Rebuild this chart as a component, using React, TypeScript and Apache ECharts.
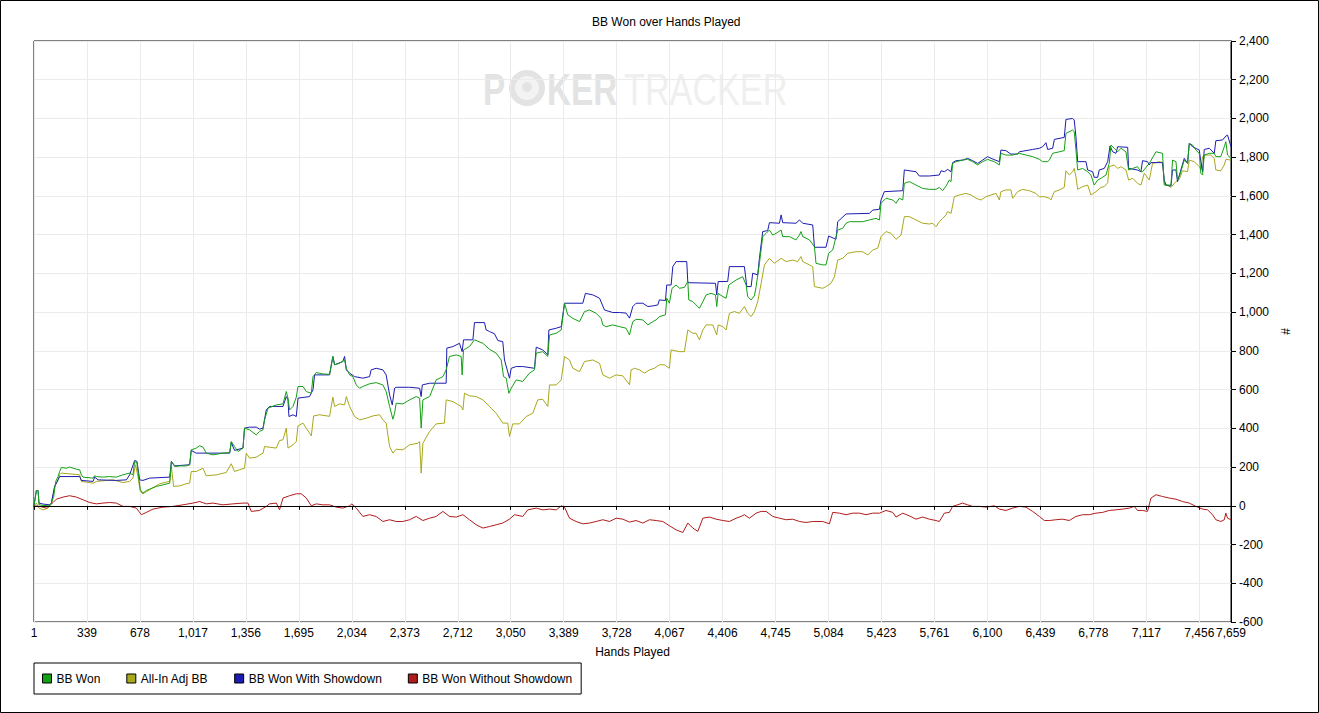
import React, { useEffect, useRef } from "react";
import * as echarts from "echarts";

const FONT = '"Liberation Sans", Arial, sans-serif';
const chartTitle = "BB Won over Hands Played";
const seriesNames = ["BB Won", "All-In Adj BB", "BB Won With Showdown", "BB Won Without Showdown"];
const seriesColors = ["#14a014", "#a8a81c", "#1c1cb0", "#b01c1c"];
const xAxisName = "Hands Played";
const yAxisName = "#";
const totalHands = 7659;
const xTickStep = 338.88;
const yMin = -600;
const yMax = 2400;
const yStep = 200;

// [hand, BB]
const bbWon = [
  [1,0],[16,79],[27,79],[33,5],[59,2],[101,0],[112,14],[127,48],[140,126],[155,151],[165,177],[176,198],[208,194],[229,200],[272,189],[293,186],[304,160],[315,148],[379,143],[389,155],[400,151],[442,148],[485,151],[528,148],[570,160],[613,169],[634,160],[645,229],[660,220],[673,134],[681,83],[698,65],[720,79],[741,86],[784,100],[826,108],[869,117],[880,229],[901,203],[933,206],[975,206],[997,212],[1007,289],[1039,298],[1061,310],[1082,303],[1103,272],[1146,263],[1210,272],[1253,275],[1263,332],[1284,306],[1306,280],[1338,298],[1348,401],[1380,392],[1423,366],[1444,384],[1466,392],[1476,444],[1498,504],[1551,521],[1594,526],[1615,590],[1626,556],[1636,495],[1658,513],[1679,561],[1690,616],[1722,616],[1743,590],[1775,581],[1786,667],[1807,688],[1849,681],[1892,679],
  [1913,771],[1924,728],[1956,736],[1988,753],[1999,710],[2020,676],[2041,667],[2063,624],[2084,607],[2105,616],[2148,630],[2190,636],[2233,624],[2254,590],[2276,513],[2297,447],[2308,478],[2318,530],[2361,526],[2404,547],[2446,564],[2468,556],[2478,401],[2489,547],[2532,564],[2574,650],[2617,667],[2638,702],[2659,771],[2702,779],[2734,771],[2740,676],[2749,805],[2787,822],[2819,857],[2873,839],[2915,808],[2958,788],[2990,753],[3005,667],[3022,659],[3039,581],[3054,607],[3086,650],[3128,642],[3171,685],[3203,702],[3214,788],[3256,796],[3288,771],[3299,882],[3342,891],[3374,908],[3395,1046],[3416,986],[3448,968],[3491,951],[3523,1003],[3555,1011],[3597,994],[3629,968],[3640,934],[3661,925],[3704,934],[3747,925],[3789,917],[3811,882],
  [3821,917],[3832,951],[3853,963],[3896,960],[3928,934],[3960,951],[3981,960],[4002,977],[4041,986],[4049,1072],[4066,1046],[4083,1123],[4109,1140],[4130,1123],[4162,1128],[4184,1158],[4190,1063],[4216,1054],[4237,1037],[4258,1020],[4280,1054],[4301,1089],[4333,1097],[4361,1089],[4369,1029],[4378,1097],[4408,1080],[4429,1072],[4446,1140],[4493,1166],[4535,1183],[4557,1140],[4567,1080],[4589,1063],[4610,1084],[4621,1132],[4642,1252],[4663,1390],[4685,1407],[4706,1424],[4727,1398],[4749,1407],[4781,1424],[4791,1390],[4834,1390],[4876,1373],[4898,1398],[4908,1416],[4919,1390],[4962,1373],[4994,1338],[5004,1252],[5047,1244],[5068,1244],[5085,1304],[5111,1321],[5143,1424],[5175,1433],[5196,1459],[5218,1467],[5303,1467],[5346,1476],[5388,1484],[5410,1476],[5420,1562],[5452,1588],[5495,1579],[5516,1562],[5537,1588],[5559,1579],[5569,1665],[5601,1674],[5644,1656],[5686,1639],[5729,1634],
  [5772,1634],[5793,1644],[5814,1627],[5836,1651],[5857,1682],[5868,1674],[5878,1768],[5900,1777],[5942,1785],[5974,1789],[6006,1777],[6038,1760],[6070,1777],[6102,1789],[6124,1782],[6145,1777],[6177,1760],[6187,1820],[6219,1811],[6262,1811],[6305,1820],[6347,1811],[6390,1803],[6433,1789],[6454,1777],[6486,1777],[6497,1785],[6518,1820],[6561,1828],[6592,1834],[6603,1923],[6646,1940],[6656,1932],[6667,1837],[6678,1734],[6710,1742],[6742,1725],[6763,1708],[6784,1656],[6806,1682],[6827,1691],[6859,1708],[6880,1768],[6891,1863],[6912,1846],[6934,1828],[6955,1846],[6987,1828],[7004,1734],[7030,1742],[7061,1751],[7083,1725],[7093,1725],[7136,1768],[7179,1828],[7221,1820],[7232,1656],[7275,1656],[7285,1785],[7307,1777],[7317,1682],[7332,1708],[7360,1785],[7381,1768],[7392,1871],[7413,1863],[7434,1837],[7456,1820],[7466,1717],[7477,1708],[7488,1811],[7520,1820],[7552,1820],[7562,1803],[7594,1803],[7616,1854],[7626,1880],[7637,1811],[7659,1794],
];

const allInAdjBB = [
  [1,0],[16,14],[33,-12],[59,-21],[91,-12],[112,14],[133,100],[155,134],[165,160],[176,169],[293,160],[304,126],[379,117],[400,126],[506,134],[570,120],[613,126],[634,143],[651,212],[666,151],[681,74],[698,62],[741,83],[805,114],[869,126],[880,203],[894,100],[933,103],[975,114],[997,117],[1007,177],[1039,177],[1082,194],[1103,155],[1167,160],[1231,172],[1263,217],[1284,177],[1316,186],[1348,194],[1359,272],[1380,246],[1423,251],[1466,272],[1476,306],[1551,298],[1572,337],[1594,341],[1615,401],[1626,298],[1658,315],[1679,332],[1690,413],[1722,427],[1743,401],[1775,361],[1790,464],[1828,470],[1892,462],
  [1913,561],[1924,513],[1956,526],[1988,521],[1999,564],[2020,513],[2052,461],[2084,444],[2126,452],[2169,464],[2212,470],[2233,444],[2254,427],[2276,306],[2297,272],[2318,292],[2361,289],[2404,315],[2457,323],[2468,332],[2478,169],[2489,323],[2532,384],[2574,423],[2627,427],[2638,547],[2681,538],[2734,513],[2745,495],[2755,581],[2787,568],[2830,564],[2873,547],[2915,513],[2958,478],[3000,427],[3032,427],[3043,358],[3064,423],[3107,423],[3150,461],[3192,478],[3224,547],[3256,550],[3288,513],[3299,624],[3342,624],[3374,650],[3395,771],[3427,753],[3448,710],[3491,693],[3523,745],[3576,753],[3619,736],[3640,676],[3683,659],[3725,676],[3768,671],[3811,625],
  [3821,702],[3843,710],[3875,702],[3907,685],[3939,702],[3970,710],[4002,728],[4034,728],[4066,710],[4077,805],[4130,796],[4162,796],[4184,908],[4216,891],[4237,891],[4258,857],[4280,908],[4301,934],[4344,934],[4369,882],[4378,934],[4408,925],[4429,908],[4450,994],[4482,1003],[4514,994],[4546,1029],[4567,994],[4589,977],[4610,1003],[4631,1054],[4653,1149],[4674,1244],[4706,1278],[4738,1252],[4781,1278],[4813,1261],[4855,1269],[4887,1261],[4908,1287],[4919,1261],[4962,1244],[4983,1235],[4994,1132],[5047,1123],[5068,1132],[5100,1149],[5122,1183],[5143,1269],[5175,1278],[5207,1304],[5260,1312],[5303,1312],[5335,1295],[5367,1321],[5399,1330],[5420,1390],[5452,1416],[5484,1407],[5516,1376],[5548,1398],[5569,1493],[5601,1493],[5644,1476],[5686,1459],[5729,1455],
  [5750,1459],[5772,1441],[5793,1467],[5814,1484],[5836,1502],[5846,1519],[5868,1510],[5889,1596],[5921,1605],[5964,1613],[5996,1605],[6028,1588],[6060,1579],[6092,1596],[6124,1605],[6156,1613],[6177,1579],[6187,1622],[6219,1631],[6251,1631],[6262,1588],[6294,1622],[6326,1634],[6369,1627],[6411,1613],[6433,1596],[6465,1596],[6497,1588],[6507,1579],[6529,1622],[6561,1631],[6592,1644],[6603,1730],[6624,1708],[6646,1725],[6656,1742],[6667,1699],[6678,1634],[6710,1648],[6742,1656],[6763,1605],[6795,1622],[6827,1644],[6848,1648],[6870,1668],[6880,1751],[6912,1760],[6934,1742],[6955,1751],[6987,1734],[7004,1682],[7030,1691],[7061,1665],[7083,1656],[7104,1717],[7136,1682],[7157,1768],[7200,1777],[7221,1772],[7232,1665],[7275,1644],[7307,1674],[7328,1686],[7349,1730],[7381,1725],[7392,1785],[7424,1777],[7456,1751],[7466,1734],[7477,1803],[7498,1811],[7530,1811],[7552,1794],[7562,1734],[7594,1730],[7616,1760],[7626,1789],[7659,1785],
];

const bbWonWithShowdown = [
  [1,0],[16,79],[27,79],[33,14],[59,9],[101,5],[112,14],[133,100],[155,134],[165,151],[293,151],[304,131],[379,126],[389,148],[411,134],[528,131],[592,134],[613,160],[645,234],[660,229],[677,134],[698,131],[741,143],[869,148],[880,229],[901,206],[997,212],[1007,286],[1039,272],[1253,272],[1263,327],[1284,286],[1338,298],[1348,401],[1380,406],[1423,406],[1444,396],[1466,401],[1487,495],[1508,513],[1594,513],[1615,564],[1626,547],[1632,461],[1658,470],[1679,461],[1690,556],[1764,564],[1786,599],[1796,676],[1892,676],
  [1913,771],[1924,728],[1977,745],[1988,771],[1999,702],[2020,685],[2052,667],[2105,659],[2148,667],[2158,702],[2190,710],[2233,702],[2254,676],[2276,573],[2293,521],[2308,607],[2318,612],[2404,612],[2468,607],[2478,564],[2485,624],[2532,633],[2638,633],[2642,814],[2681,822],[2723,839],[2740,796],[2749,857],[2809,857],[2819,946],[2883,946],[2894,908],[2915,900],[2947,888],[2969,853],[3000,848],[3011,753],[3043,659],[3054,710],[3086,719],[3128,719],[3203,710],[3214,819],[3256,805],[3288,779],[3295,908],[3342,917],[3374,925],[3395,1046],[3512,1046],[3529,1097],[3576,1089],[3619,1072],[3651,1011],[3704,998],[3747,998],[3789,995],[3811,969],
  [3832,1029],[3853,1046],[3896,1046],[3928,1029],[3960,1032],[3992,1037],[4002,1063],[4041,1060],[4049,1140],[4077,1140],[4088,1235],[4109,1261],[4177,1261],[4184,1152],[4361,1149],[4369,1089],[4378,1158],[4439,1158],[4450,1235],[4546,1235],[4561,1132],[4589,1132],[4599,1201],[4631,1192],[4642,1278],[4663,1416],[4695,1421],[4706,1462],[4770,1459],[4781,1502],[4791,1462],[4876,1459],[4898,1476],[4919,1459],[4983,1450],[4994,1335],[5068,1335],[5085,1393],[5132,1376],[5143,1467],[5196,1507],[5346,1510],[5367,1527],[5410,1531],[5420,1579],[5441,1622],[5559,1627],[5569,1734],[5644,1725],[5665,1703],[5729,1703],
  [5793,1708],[5804,1730],[5825,1725],[5846,1737],[5868,1725],[5878,1772],[5900,1782],[5942,1785],[5974,1794],[6006,1782],[6038,1768],[6070,1785],[6102,1803],[6124,1794],[6177,1777],[6187,1837],[6219,1834],[6251,1816],[6294,1816],[6305,1828],[6390,1840],[6433,1846],[6454,1854],[6475,1875],[6486,1840],[6518,1846],[6529,1892],[6592,1902],[6603,1995],[6646,2000],[6656,1992],[6667,1906],[6678,1777],[6731,1777],[6742,1734],[6774,1725],[6784,1696],[6806,1696],[6816,1734],[6848,1742],[6870,1777],[6885,1858],[6902,1828],[6923,1820],[6934,1854],[6998,1851],[7004,1742],[7061,1734],[7083,1725],[7093,1782],[7125,1777],[7136,1760],[7147,1772],[7221,1772],[7232,1682],[7243,1656],[7275,1651],[7285,1734],[7307,1734],[7317,1674],[7332,1717],[7360,1794],[7381,1768],[7392,1871],[7413,1854],[7456,1837],[7466,1777],[7477,1725],[7488,1840],[7520,1846],[7552,1820],[7562,1885],[7605,1889],[7626,1909],[7637,1914],[7659,1854],
];

const bbWonWithoutShowdown = [
  [1,0],[37,-3],[80,-12],[123,17],[144,34],[187,45],[229,52],[272,45],[315,31],[357,17],[400,10],[442,14],[485,17],[528,14],[570,-3],[613,-3],[656,-12],[688,-46],[720,-34],[762,-17],[826,-7],[890,-3],[954,5],[1018,14],[1061,22],[1103,10],[1146,14],[1210,5],[1274,10],[1338,14],[1370,14],[1391,-29],[1444,-24],[1487,-3],[1508,10],[1551,14],[1572,-21],[1594,40],[1636,52],[1679,62],[1711,62],[1743,40],[1775,0],[1807,10],[1849,5],[1892,5],
  [1935,-7],[1977,-12],[2020,0],[2035,10],[2063,-12],[2105,-55],[2148,-46],[2190,-55],[2233,-81],[2276,-72],[2318,-81],[2361,-81],[2404,-72],[2446,-55],[2489,-76],[2532,-64],[2574,-55],[2617,-29],[2659,-55],[2702,-58],[2745,-46],[2787,-72],[2830,-98],[2873,-115],[2915,-107],[2958,-98],[3000,-89],[3043,-69],[3075,-46],[3128,-55],[3160,-21],[3214,-12],[3256,-21],[3299,-17],[3342,-21],[3374,0],[3395,-7],[3427,-64],[3469,-81],[3512,-93],[3555,-89],[3597,-81],[3640,-72],[3683,-81],[3725,-64],[3768,-69],[3811,-84],
  [3853,-76],[3896,-89],[3939,-72],[3981,-76],[4024,-81],[4066,-103],[4109,-124],[4152,-138],[4184,-89],[4216,-115],[4248,-132],[4280,-64],[4322,-58],[4365,-69],[4408,-76],[4450,-81],[4493,-64],[4525,-55],[4546,-46],[4578,-64],[4621,-38],[4653,-29],[4685,-29],[4727,-55],[4770,-64],[4813,-72],[4855,-69],[4898,-81],[4940,-86],[4983,-81],[5047,-81],[5090,-93],[5111,-34],[5154,-38],[5196,-46],[5239,-38],[5282,-38],[5324,-46],[5367,-38],[5410,-38],[5452,-24],[5495,-34],[5516,-58],[5559,-38],[5601,-52],[5644,-69],[5686,-58],[5729,-69],
  [5772,-76],[5793,-81],[5825,-38],[5857,-34],[5878,-3],[5910,5],[5942,14],[5974,5],[6006,-3],[6049,-3],[6092,-7],[6145,0],[6177,-17],[6219,-24],[6262,-12],[6305,-3],[6347,-7],[6390,-29],[6433,-55],[6465,-76],[6497,-76],[6539,-72],[6582,-69],[6624,-76],[6667,-55],[6710,-46],[6752,-46],[6795,-38],[6838,-34],[6880,-24],[6923,-21],[6966,-17],[7008,-12],[7040,-3],[7061,-24],[7093,-24],[7125,-29],[7147,40],[7179,57],[7221,48],[7264,40],[7307,34],[7349,22],[7392,14],[7434,-3],[7477,-17],[7509,-21],[7541,-46],[7562,-72],[7594,-81],[7616,-72],[7626,-38],[7637,-64],[7659,-72],
];

const seriesData = [bbWon, allInAdjBB, bbWonWithShowdown, bbWonWithoutShowdown];

function fmt(n: number) {
  return Math.round(n).toLocaleString("en-US");
}

export default function App() {
  const ref = useRef<HTMLDivElement>(null);
  useEffect(() => {
    document.body.style.margin = "0";
    if (!ref.current) return;
    const chart = echarts.init(ref.current, null, { renderer: "svg" });
    const series: any[] = seriesData.map((d, i) => ({
      name: seriesNames[i],
      type: "line",
      data: d.map(([h, v]) => [h - 1, v]),
      showSymbol: false,
      symbol: "none",
      z: i === 0 ? 4 : 3,
      lineStyle: { width: 1, color: seriesColors[i] },
      itemStyle: { color: seriesColors[i] },
      emphasis: { disabled: true },
    }));
    series[3].markLine = {
      silent: true,
      symbol: ["none", "none"],
      label: { show: false },
      lineStyle: { color: "#000", width: 1, type: "solid" },
      data: [{ yAxis: 0 }],
      animation: false,
    };
    const chipColor = "#e3e3e3";
    chart.setOption({
      animation: false,
      backgroundColor: "#fff",
      title: {
        text: chartTitle,
        left: 592,
        top: 16,
        padding: 0,
        textStyle: { fontSize: 12, fontWeight: "normal", color: "#000", fontFamily: FONT },
      },
      legend: {
        data: seriesNames,
        left: 34,
        top: 663,
        orient: "horizontal",
        icon: "rect",
        itemWidth: 9,
        itemHeight: 9,
        itemGap: 26,
        padding: [8, 9, 8, 8],
        borderColor: "#000",
        borderWidth: 1,
        selectedMode: false,
        itemStyle: { borderColor: "#000", borderWidth: 1 },
        textStyle: { fontSize: 12, color: "#000", fontFamily: FONT, lineHeight: 15 },
      },
      grid: {
        left: 34,
        top: 41,
        width: 1197,
        height: 581,
        show: true,
        borderColor: "#000",
        borderWidth: 1,
        backgroundColor: "transparent",
      },
      xAxis: {
        type: "value",
        min: 0,
        max: totalHands - 1,
        interval: xTickStep,
        name: xAxisName,
        nameLocation: "middle",
        nameGap: 24,
        nameTextStyle: { fontSize: 12, color: "#000", fontFamily: FONT },
        axisLine: { show: true, lineStyle: { color: "#000", width: 1 } },
        axisTick: { show: true, length: 4, lineStyle: { color: "#000" } },
        axisLabel: {
          show: true,
          margin: 5,
          fontSize: 12,
          color: "#000",
          fontFamily: FONT,
          showMinLabel: true,
          showMaxLabel: true,
          hideOverlap: false,
          formatter: (v: number) => fmt(Math.floor(v + 1e-6) + 1),
        },
        splitLine: { show: true, lineStyle: { color: "#ebebeb", width: 1 } },
      },
      yAxis: {
        type: "value",
        position: "right",
        min: yMin,
        max: yMax,
        interval: yStep,
        name: yAxisName,
        nameLocation: "middle",
        nameGap: 48,
        nameTextStyle: { fontSize: 12, color: "#000", fontFamily: FONT },
        axisLine: { show: true, onZero: false, lineStyle: { color: "#000", width: 1 } },
        axisTick: { show: true, length: 5, lineStyle: { color: "#000" } },
        axisLabel: {
          margin: 8,
          fontSize: 12,
          color: "#000",
          fontFamily: FONT,
          showMinLabel: true,
          showMaxLabel: true,
          formatter: (v: number) => fmt(v),
        },
        splitLine: { show: true, lineStyle: { color: "#ebebeb", width: 1 } },
      },
      graphic: [
        {
          type: "group",
          z: -10,
          silent: true,
          children: [
            {
              type: "text",
              x: 483,
              y: 89,
              scaleX: 0.74,
              style: { text: "P", fontSize: 45, fontWeight: "bold", fontFamily: FONT, fill: chipColor, verticalAlign: "middle" },
            },
            { type: "circle", shape: { cx: 527, cy: 88, r: 18 }, style: { fill: chipColor } },
            { type: "circle", shape: { cx: 527, cy: 88, r: 12 }, style: { fill: "#f3f3f3" } },
            { type: "circle", shape: { cx: 527, cy: 87, r: 5 }, style: { fill: chipColor } },
            {
              type: "text",
              x: 547,
              y: 89,
              scaleX: 0.74,
              style: { text: "KER", fontSize: 45, fontWeight: "bold", fontFamily: FONT, fill: chipColor, verticalAlign: "middle" },
            },
            {
              type: "text",
              x: 624,
              y: 89,
              scaleX: 0.76,
              style: { text: "TRACKER", fontSize: 45, fontFamily: FONT, fill: "#efefef", verticalAlign: "middle" },
            },
          ],
        },
        {
          type: "rect",
          z: 100,
          silent: true,
          shape: { x: 0.5, y: 0.5, width: 1318, height: 712 },
          style: { fill: "none", stroke: "#000", lineWidth: 1 },
        },
      ],
      series,
    });
    return () => chart.dispose();
  }, []);
  return <div ref={ref} style={{ width: 1319, height: 713 }} />;
}
